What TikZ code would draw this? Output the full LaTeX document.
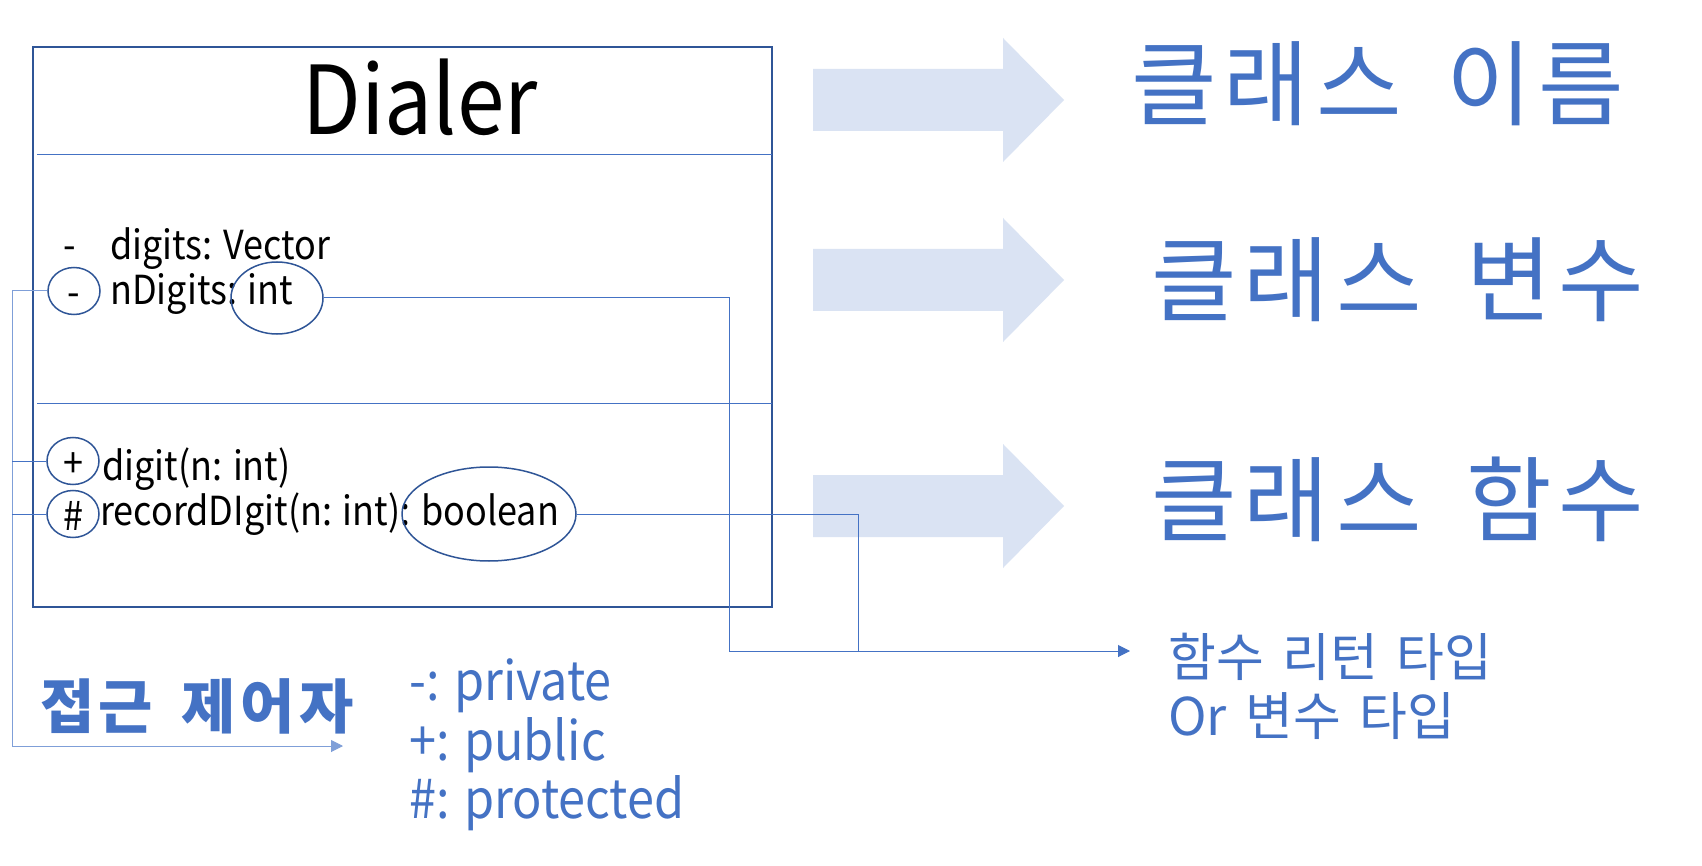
\documentclass[tikz,border=0pt]{standalone}
\usepackage{fontspec}
\setmainfont{Noto Sans CJK KR}[FakeStretch=0.9]
\newfontfamily\krfont{Noto Sans CJK KR}[WordSpace=1.6,LetterSpace=7.5]
\newfontfamily\krnote{Noto Sans CJK KR}[WordSpace=1.6]
\usetikzlibrary{shapes.geometric,arrows.meta}
\definecolor{krblue}{HTML}{4472C4}
\definecolor{boxblue}{HTML}{2F5597}
\definecolor{arrowfill}{HTML}{DAE3F3}
\definecolor{leadblue}{HTML}{7F9FD8}

\begin{document}
\begin{tikzpicture}[x=1pt,y=-1pt,
    member/.style={anchor=base west,inner sep=0pt,font=\fontsize{40}{40}\selectfont},
    modring/.style={draw=boxblue,line width=1.5pt,ellipse,inner sep=0pt,minimum width=52pt,minimum height=47pt,
        text height=32pt,text depth=0pt,font=\fontsize{40}{40}\selectfont},
    typering/.style={draw=boxblue,line width=1.5pt,ellipse,inner sep=0pt},
    heading/.style={anchor=west,inner sep=0pt,text=krblue,font=\krfont\fontsize{93}{93}\selectfont},
    note/.style={anchor=base west,inner sep=0pt,text=krblue,font=\fontsize{54}{54}\selectfont},
    conn/.style={draw=krblue,line width=1pt}]
    \useasboundingbox[fill=white] (0,0) rectangle (1702,866);

    % class box
    \draw[boxblue,line width=2pt] (33,47) rectangle (772,607);
    \draw[krblue,line width=1pt] (37,155) -- (772,155);
    \draw[krblue,line width=1pt] (37,403) -- (772,403);
    \node[anchor=base,inner sep=0pt,font=\fontsize{95}{95}\selectfont] (classname) at (420,135) {Dialer};

    % members
    \node[member] (dash1) at (63,260) {-};
    \node[member] (digits) at (110,260) {digits: Vector};
    \node[modring] (privring) at (74,291) {-};
    \node[member] (ndigits) at (110,305) {nDigits: int};
    \node[typering,minimum width=92pt,minimum height=72pt] (intring) at (277,298) {};
    \node[modring] (pubring) at (73,461) {+};
    \node[member] (digit) at (102,480) {digit(n: int)};
    \node[modring] (protring) at (73,514) {\#};
    \node[member] (record) at (100,525) {recordDIgit(n: int): boolean};
    \node[typering,minimum width=174pt,minimum height=94pt] (boolring) at (489,514) {};

    % big arrows
    \foreach \cy in {100,280,506}
        \fill[arrowfill] (813,\cy-31) -- (1003,\cy-31) -- (1003,\cy-62) -- (1064,\cy)
            -- (1003,\cy+62) -- (1003,\cy+31) -- (813,\cy+31) -- cycle;

    \node[heading] (nameinfo) at (1131,84) {클래스 이름};
    \node[heading] (varinfo) at (1151,280) {클래스 변수};
    \node[heading] (funcinfo) at (1151,499) {클래스 함수};

    % return type
    \node[anchor=base west,inner sep=0pt,text=krblue,font=\krnote\fontsize{52}{52}\selectfont] (rettype) at (1168,676) {함수 리턴 타입};
    \node[anchor=base west,inner sep=0pt,text=krblue,font=\krnote\fontsize{52}{52}\selectfont] (vartype) at (1168,735) {Or 변수 타입};
    \coordinate (intbend) at (729,651);
    \coordinate (boolbend) at (858,651);
    \coordinate (rettip) at (1130,651);
    \draw[conn,-{Triangle[length=12pt,width=12pt]}] (intring.east) -| (intbend) -- (rettip);
    \draw[conn] (boolring.east) -| (boolbend);

    % access modifiers
    \node[anchor=base west,inner sep=0pt,text=krblue,font=\krfont\fontsize{59}{59}\selectfont\bfseries] (access) at (40,728) {접근 제어자};
    \node[note] (private) at (409,700) {-: private};
    \node[note] (public) at (409,760) {+: public};
    \node[note] (protected) at (409,818) {\#: protected};
    \coordinate (accbend) at (12,746);
    \coordinate (acctip) at (343,746);
    \draw[conn,draw=leadblue,-{Triangle[length=12pt,width=12pt]}] (privring.west) -| (accbend) -- (acctip);
    \draw[conn] (pubring.west) -- (pubring.west -| accbend);
    \draw[conn] (protring.west) -- (protring.west -| accbend);
\end{tikzpicture}
\end{document}
